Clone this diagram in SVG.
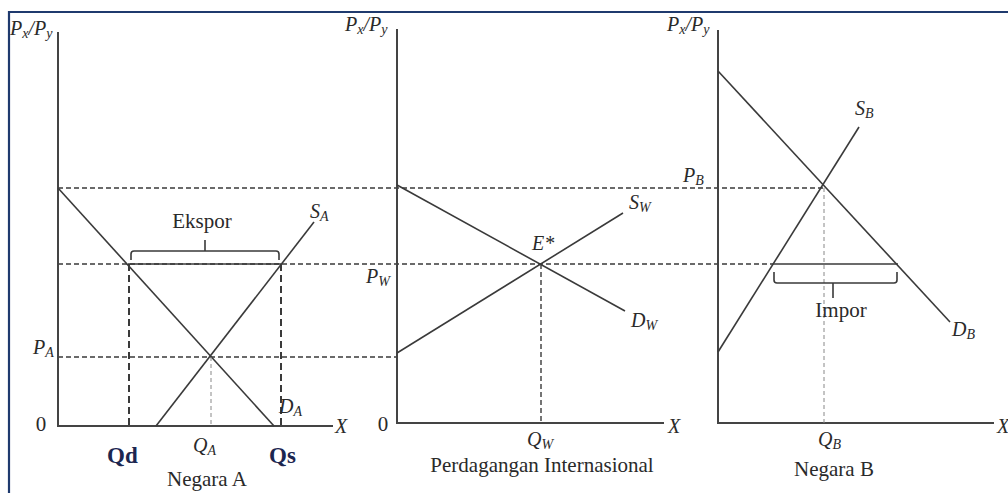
<svg xmlns="http://www.w3.org/2000/svg" width="1008" height="493" viewBox="0 0 1008 493">
<style>
text{font-family:"Liberation Serif","Times New Roman",serif;fill:#2a2a2a}
.lbl{font-size:21px}
.it{font-style:italic;font-size:20px}
.sub{font-size:14px}
.bold{font-weight:bold;font-size:23px;fill:#1c2650}
.axis{stroke:#444;stroke-width:2;fill:none}
.curve{stroke:#3a3a3a;stroke-width:1.6;fill:none}
.dash{stroke:#3a3a3a;stroke-width:1.4;stroke-dasharray:5,3;fill:none}
.dashthick{stroke:#3a3a3a;stroke-width:2;stroke-dasharray:7,4;fill:none}
.dot{stroke:#888;stroke-width:1;stroke-dasharray:4,3;fill:none}
</style>
<rect width="1008" height="493" fill="#fff"/>
<path d="M9,493 V12 H1008" stroke="#1f3a6e" stroke-width="2.2" fill="none"/>

<g id="connectors">
<line class="dash" x1="58" y1="188" x2="823" y2="188"/>
<line class="dash" x1="58" y1="264" x2="773" y2="264"/>
<line class="dash" x1="58" y1="357" x2="397" y2="357"/>
</g>

<g id="panel-a">
<line class="axis" x1="58" y1="32" x2="58" y2="426"/>
<line class="axis" x1="57" y1="426" x2="333" y2="426"/>
<text class="it" x="10" y="35">P<tspan class="sub" dy="3">x</tspan><tspan dy="-3">/P</tspan><tspan class="sub" dy="3">y</tspan></text>
<line class="curve" x1="58" y1="188" x2="274" y2="426"/>
<line class="curve" x1="156" y1="426" x2="314" y2="222"/>
<line class="dashthick" x1="129" y1="264" x2="129" y2="426"/>
<line class="dashthick" x1="281" y1="264" x2="281" y2="426"/>
<line class="dot" x1="211" y1="357" x2="211" y2="426"/>
<line class="curve" x1="128" y1="264" x2="281" y2="264"/>
<path class="curve" d="M131,260 V254 Q131,251 134,251 H276 Q279,251 279,254 V260 M205,251 V240"/>
<text class="lbl" x="202" y="228" text-anchor="middle">Ekspor</text>
<text class="it" x="310" y="218">S<tspan class="sub" dy="3">A</tspan></text>
<text class="it" x="33" y="354">P<tspan class="sub" dy="3">A</tspan></text>
<text class="it" x="279" y="413">D<tspan class="sub" dy="3">A</tspan></text>
<text class="lbl" x="41" y="431" text-anchor="middle">0</text>
<text class="it" x="335" y="433">X</text>
<text class="bold" x="107" y="463">Qd</text>
<text class="bold" x="269" y="463">Qs</text>
<text class="it" x="193" y="452">Q<tspan class="sub" dy="3">A</tspan></text>
<text class="lbl" x="207" y="486" text-anchor="middle">Negara A</text>
</g>

<g id="panel-b">
<line class="axis" x1="397" y1="29" x2="397" y2="423"/>
<line class="axis" x1="396" y1="423" x2="664" y2="423"/>
<text class="it" x="345" y="31">P<tspan class="sub" dy="3">x</tspan><tspan dy="-3">/P</tspan><tspan class="sub" dy="3">y</tspan></text>
<line class="curve" x1="397" y1="185" x2="625" y2="311"/>
<line class="curve" x1="397" y1="353" x2="623" y2="213"/>
<line class="dash" x1="541" y1="264" x2="541" y2="423"/>
<text class="it" x="532" y="250">E*</text>
<text class="it" x="629" y="209">S<tspan class="sub" dy="3">W</tspan></text>
<text class="it" x="631" y="327">D<tspan class="sub" dy="3">W</tspan></text>
<text class="it" x="366" y="283">P<tspan class="sub" dy="3">W</tspan></text>
<text class="lbl" x="383" y="431" text-anchor="middle">0</text>
<text class="it" x="668" y="433">X</text>
<text class="it" x="527" y="446">Q<tspan class="sub" dy="3">W</tspan></text>
<text class="lbl" x="542" y="472" text-anchor="middle">Perdagangan Internasional</text>
</g>

<g id="panel-c">
<line class="axis" x1="718" y1="30" x2="718" y2="423"/>
<line class="axis" x1="717" y1="423" x2="994" y2="423"/>
<text class="it" x="667" y="31">P<tspan class="sub" dy="3">x</tspan><tspan dy="-3">/P</tspan><tspan class="sub" dy="3">y</tspan></text>
<line class="curve" x1="718" y1="71" x2="950" y2="322"/>
<line class="curve" x1="718" y1="352" x2="859" y2="127"/>
<line class="dot" x1="824" y1="188" x2="824" y2="423"/>
<line class="curve" x1="773" y1="264" x2="898" y2="264"/>
<path class="curve" d="M774,272 V280 Q774,283 777,283 H894 Q897,283 897,280 V272 M833,283 V298"/>
<text class="lbl" x="841" y="317" text-anchor="middle">Impor</text>
<text class="it" x="683" y="182">P<tspan class="sub" dy="3">B</tspan></text>
<text class="it" x="855" y="115">S<tspan class="sub" dy="3">B</tspan></text>
<text class="it" x="952" y="336">D<tspan class="sub" dy="3">B</tspan></text>
<text class="it" x="997" y="433">X</text>
<text class="it" x="818" y="446">Q<tspan class="sub" dy="3">B</tspan></text>
<text class="lbl" x="834" y="476" text-anchor="middle">Negara B</text>
</g>
</svg>
